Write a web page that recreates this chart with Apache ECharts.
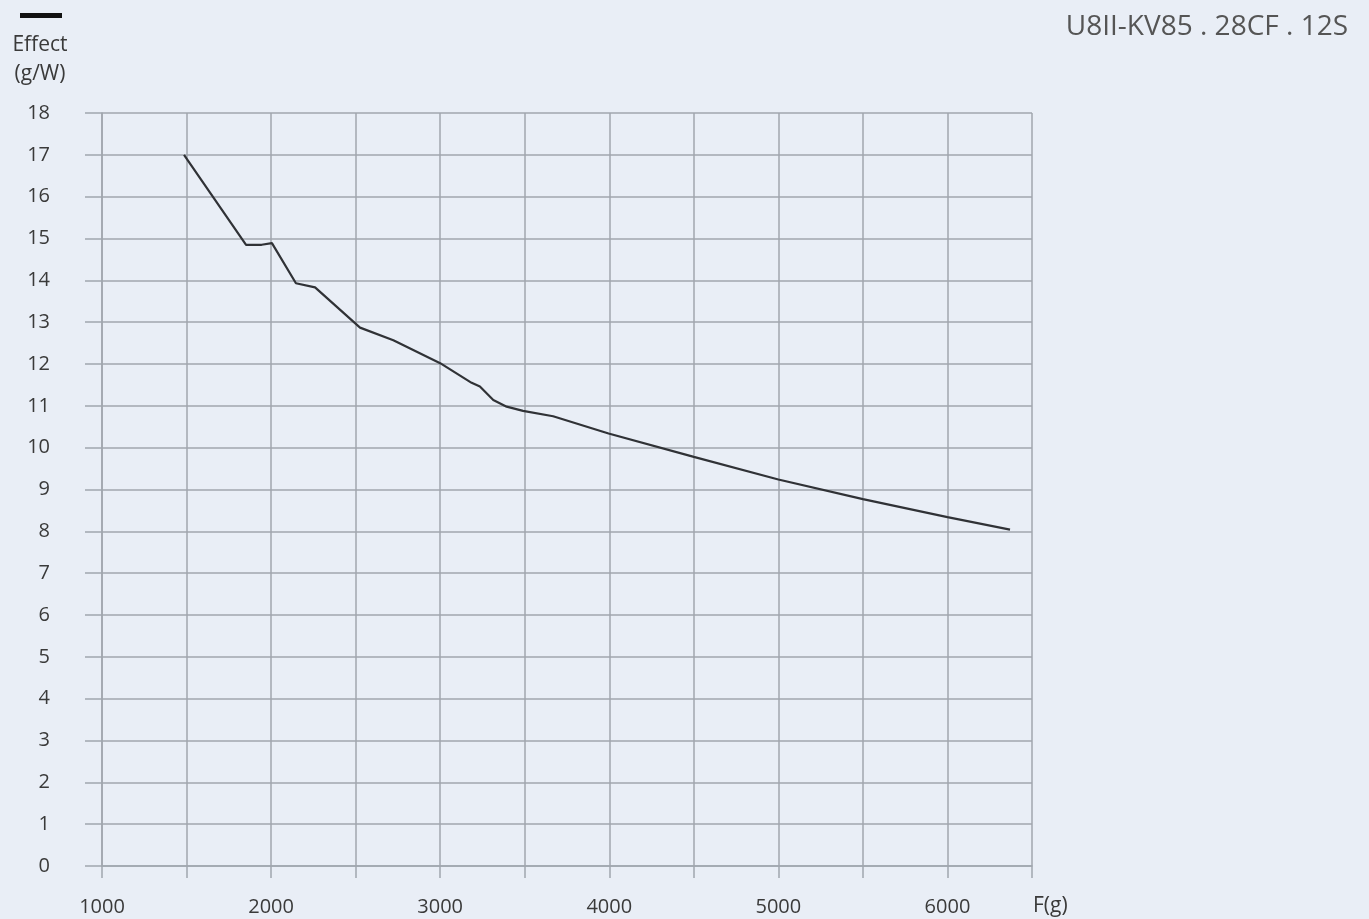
<!DOCTYPE html>
<html>
<head>
<meta charset="utf-8">
<script src="https://cdn.jsdelivr.net/npm/echarts@6/dist/echarts.min.js"></script>
<style>
html,body{margin:0;padding:0;background:#e9eef6;}
#chart{width:1369px;height:919px;}
</style>
</head>
<body>
<div id="chart"></div>
<script>
const titleText = 'U8II-KV85 . 28CF . 12S';
const seriesName = 'Effect';
const yAxisName = 'Effect\n(g/W)';
const xAxisName = 'F(g)';
const forceG = [1485, 1852, 1944, 2005, 2147, 2260, 2526, 2723, 3000, 3186, 3235, 3314, 3393, 3490, 3668, 3996, 4500, 5000, 5500, 6000, 6370];
const effect = [17.0, 14.85, 14.85, 14.89, 13.93, 13.83, 12.87, 12.57, 12.02, 11.55, 11.46, 11.14, 10.98, 10.88, 10.75, 10.34, 9.78, 9.24, 8.77, 8.34, 8.04];

const gridColor = '#a0a6ae';
const labelColor = '#3a3a3a';
const font = 'Open Sans';

const chart = echarts.init(document.getElementById('chart'));
chart.setOption({
  backgroundColor: '#e9eef6',
  animation: false,
  textStyle: { fontFamily: font },
  title: {
    text: titleText, right: 16, top: 8,
    textStyle: { fontSize: 28, fontWeight: 'normal', color: '#555', fontFamily: font }
  },
  legend: {
    left: 20, top: 13, padding: 0, icon: 'rect', itemWidth: 42, itemHeight: 5,
    data: [seriesName], formatter: () => '', textStyle: { fontSize: 1 }
  },
  grid: { left: 102, right: 337, top: 113, bottom: 53, containLabel: false },
  xAxis: {
    type: 'value', min: 1000, max: 6500, interval: 500,
    name: xAxisName, nameLocation: 'end', nameGap: 1,
    nameTextStyle: { fontSize: 21, color: labelColor, verticalAlign: 'top', align: 'left', padding: [30, 0, 0, 0] },
    axisLine: { show: true, lineStyle: { color: gridColor, width: 1.5 } },
    axisTick: { show: true, length: 12, lineStyle: { color: gridColor, width: 1.5 } },
    axisLabel: {
      fontSize: 20, color: labelColor, margin: 31,
      formatter: v => (v % 1000 === 0 ? String(v) : '')
    },
    splitLine: { show: true, lineStyle: { color: gridColor, width: 1.5 } }
  },
  yAxis: {
    type: 'value', min: 0, max: 18, interval: 1,
    name: yAxisName, nameLocation: 'end', nameGap: 24,
    nameTextStyle: { fontSize: 21, color: labelColor, lineHeight: 29, align: 'center', padding: [0, 124, 0, 0] },
    axisLine: { show: true, lineStyle: { color: gridColor, width: 1.5 } },
    axisTick: { show: true, length: 17, lineStyle: { color: gridColor, width: 1.5 } },
    axisLabel: { fontSize: 20, color: labelColor, margin: 52 },
    splitLine: { show: true, lineStyle: { color: gridColor, width: 1.5 } }
  },
  series: [{
    name: seriesName, type: 'line', showSymbol: false, symbol: 'none',
    data: forceG.map((x, i) => [x, effect[i]]),
    lineStyle: { color: '#303236', width: 2.2 },
    itemStyle: { color: '#111' }
  }]
});
</script>
</body>
</html>
